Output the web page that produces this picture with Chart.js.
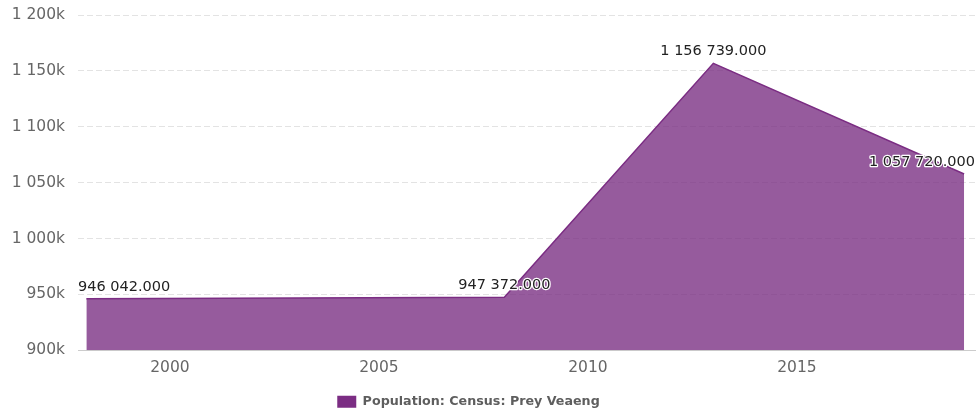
<!DOCTYPE html>
<html>
<head>
<meta charset="utf-8">
<script src="https://cdn.jsdelivr.net/npm/chart.js@4/dist/chart.umd.min.js"></script>
<style>
  html, body { margin: 0; padding: 0; background: #fff; }
  #wrap { width: 979px; height: 411px; }
</style>
</head>
<body>
<div id="wrap"><canvas id="popChart"></canvas></div>
<script>
const seriesName = "Population: Census: Prey Veaeng";
const censusYears = [1998, 2008, 2013, 2019];
const population = [946042, 947372, 1156739, 1057720];
const yearTicks = [2000, 2005, 2010, 2015];

const lineColor = "#7b2d83";
const fillColor = "rgba(118, 42, 128, 0.77)";
const axisText = "#666666";
const gridLine = "#e3e3e3";

// 1234567 -> "1 234 567"
function spaced(n) {
  return String(n).replace(/\B(?=(\d{3})+(?!\d))/g, " ");
}

function labelText(v) {
  return spaced(Math.round(v)) + ".000";
}

// value labels above each point, kept inside the plot area
const pointLabels = {
  id: "pointLabels",
  afterDatasetsDraw(chart) {
    const ctx = chart.ctx;
    const area = chart.chartArea;
    const meta = chart.getDatasetMeta(0);
    ctx.save();
    ctx.font = "14.5px 'DejaVu Sans', sans-serif";
    ctx.textBaseline = "middle";
    ctx.textAlign = "left";
    ctx.lineJoin = "round";
    meta.data.forEach((pt, i) => {
      const txt = labelText(population[i]);
      const w = ctx.measureText(txt).width;
      let x = pt.x - w / 2;
      x = Math.max(area.left, Math.min(x, area.right - w));
      const y = pt.y - 12;
      ctx.strokeStyle = "#ffffff";
      ctx.lineWidth = 2.5;
      ctx.strokeText(txt, x, y);
      ctx.fillStyle = "#222222";
      ctx.fillText(txt, x, y);
    });
    ctx.restore();
  }
};

// nudge the legend a little left of the canvas centre
const legendShift = {
  id: "legendShift",
  afterLayout(chart) {
    if (chart.legend) chart.legend.left -= 38;
  }
};

new Chart(document.getElementById("popChart"), {
  type: "line",
  data: {
    datasets: [{
      label: seriesName,
      data: censusYears.map((yr, i) => ({ x: yr, y: population[i] })),
      borderColor: lineColor,
      backgroundColor: fillColor,
      borderWidth: 1.5,
      fill: "start",
      pointRadius: 0,
      pointHoverRadius: 0,
      tension: 0
    }]
  },
  plugins: [pointLabels, legendShift],
  options: {
    responsive: true,
    maintainAspectRatio: false,
    animation: false,
    layout: { padding: { top: 15, right: 4, bottom: -7, left: 0 } },
    plugins: {
      tooltip: { enabled: false },
      legend: {
        position: "bottom",
        labels: {
          boxWidth: 19,
          boxHeight: 12,
          padding: 3,
          color: axisText,
          font: { family: "'DejaVu Sans', sans-serif", size: 12.7, weight: "bold" },
          generateLabels: chart => [{
            text: seriesName,
            fillStyle: lineColor,
            strokeStyle: lineColor,
            fontColor: "#5e5e5e",
            lineWidth: 0,
            datasetIndex: 0
          }]
        }
      }
    },
    scales: {
      x: {
        type: "linear",
        min: 1997.8,
        max: 2019.26,
        afterBuildTicks: scale => {
          scale.ticks = yearTicks.map(v => ({ value: v }));
        },
        afterFit: scale => { scale.height = 42; },
        ticks: {
          padding: 8,
          color: axisText,
          font: { family: "'DejaVu Sans', sans-serif", size: 15.5 },
          callback: v => String(v)
        },
        grid: { display: false, drawTicks: false },
        border: { display: true, color: "#cccccc", width: 1 }
      },
      y: {
        min: 900000,
        max: 1200000,
        afterFit: scale => {
          scale.width = 78;
          scale.paddingTop = 0;
          scale.paddingBottom = 0;
        },
        ticks: {
          stepSize: 50000,
          padding: 13,
          color: axisText,
          font: { family: "'DejaVu Sans', sans-serif", size: 15.5 },
          callback: v => spaced(v / 1000) + "k"
        },
        grid: { color: gridLine, drawTicks: false, lineWidth: 1 },
        border: { display: false, dash: [6, 3] }
      }
    }
  }
});
</script>
</body>
</html>
